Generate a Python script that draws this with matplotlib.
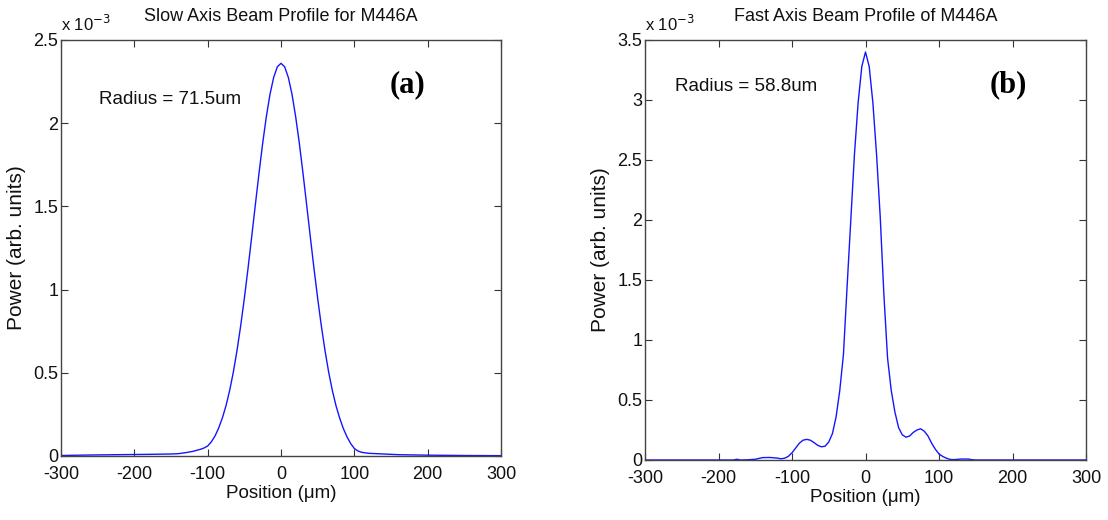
import numpy as np
import matplotlib.pyplot as plt

# slow axis profile (panel a), power in units of 1e-3
slow_x = [-300, -260, -220, -180, -150, -140, -130, -120, -110, -105, -100, -95, -90, -85,
          -80, -75, -70, -65, -60, -55, -50, -45, -40, -35, -30, -25, -20, -15, -10, -5, 0,
          5, 10, 15, 20, 25, 30, 35, 40, 45, 50, 55, 60, 65, 70, 75, 80, 85, 90, 95, 100,
          105, 110, 120, 140, 160, 200, 250, 300]
slow_p = [0.003, 0.006, 0.008, 0.01, 0.012, 0.014, 0.02, 0.028, 0.04, 0.048, 0.06, 0.085, 0.12, 0.168,
          0.228, 0.302, 0.394, 0.504, 0.634, 0.782, 0.947, 1.126, 1.316, 1.509, 1.699, 1.879, 2.039, 2.174, 2.275, 2.339, 2.36,
          2.339, 2.275, 2.174, 2.039, 1.879, 1.699, 1.509, 1.316, 1.126, 0.947, 0.782, 0.634, 0.504, 0.394, 0.302, 0.228, 0.165, 0.115, 0.075, 0.045,
          0.03, 0.022, 0.016, 0.012, 0.008, 0.005, 0.003, 0.002]

# fast axis profile (panel b), power in units of 1e-3
fast_x = [-300, -200, -180, -175, -170, -160, -150, -140, -130, -120, -115, -110, -105, -100, -95, -90,
          -85, -80, -75, -70, -65, -60, -55, -50, -45, -40, -35, -30, -25, -20, -15, -10, -5, 0,
          5, 10, 15, 20, 25, 30, 35, 40, 45, 50, 55, 60, 65, 70, 75, 80, 85, 90, 95, 100,
          105, 110, 115, 120, 130, 140, 145, 150, 200, 300]
fast_p = [0.0, 0.0, 0.0, 0.006, 0.0, 0.002, 0.006, 0.02, 0.021, 0.016, 0.01, 0.015, 0.03, 0.06, 0.10, 0.14,
          0.165, 0.172, 0.165, 0.145, 0.122, 0.11, 0.115, 0.15, 0.22, 0.36, 0.58, 0.88, 1.45, 2.0, 2.55, 2.98, 3.28, 3.40,
          3.28, 2.98, 2.55, 2.03, 1.38, 0.85, 0.58, 0.40, 0.27, 0.21, 0.19, 0.20, 0.23, 0.25, 0.26, 0.24, 0.20, 0.14, 0.09, 0.05,
          0.03, 0.015, 0.005, 0.003, 0.008, 0.008, 0.002, 0.0, 0.0, 0.0]

x_ticks = [-300, -200, -100, 0, 100, 200, 300]
titles = ['Slow Axis Beam Profile for M446A', 'Fast Axis Beam Profile of M446A']
radius_txt = ['Radius = 71.5um', 'Radius = 58.8um']
tags = ['(a)', '(b)']
y_tops = [2.5, 3.5]
radius_pos = [(0.086, 0.856), (0.068, 0.89)]
tag_pos = [(0.748, 0.892), (0.782, 0.893)]

plt.rcParams['font.family'] = ['Liberation Sans', 'DejaVu Sans']
plt.rcParams['axes.unicode_minus'] = False

fig = plt.figure(figsize=(11.08, 5.2), dpi=100)
ax_a = fig.add_axes([61 / 1108, 1 - 456 / 520, 440 / 1108, 416 / 520])
ax_b = fig.add_axes([645 / 1108, 1 - 460 / 520, 441 / 1108, 420 / 520])

data = [(slow_x, slow_p), (fast_x, fast_p)]
for i, ax in enumerate([ax_a, ax_b]):
    xs, ps = data[i]
    ax.plot(xs, ps, color='#1515ff', lw=1.0)
    ax.set_xlim(-300, 300)
    ax.set_ylim(0, y_tops[i])
    ax.set_xticks(x_ticks)
    yt = np.arange(0, y_tops[i] + 0.01, 0.5)
    ax.set_yticks(yt)
    ax.set_yticklabels(['%g' % v for v in yt])
    ax.tick_params(direction='in', length=5, labelsize=13, top=True, right=True,
                   colors='#333333', labelcolor='#111111', pad=2)
    ax.tick_params(axis='x', pad=7)
    for s in ax.spines.values():
        s.set_color('#444444')
        s.set_linewidth(1.0)
    ax.set_title(titles[i], fontsize=13, pad=14, color='#111111')
    ax.set_xlabel('Position (\u03bcm)', fontsize=13.5, labelpad=2, color='#111111')
    ax.set_ylabel('Power (arb. units)', fontsize=15, labelpad=5, color='#111111')
    ax.text(0.0, 1.015, 'x 10$^{-3}$', transform=ax.transAxes, fontsize=12,
            ha='left', va='bottom', color='#111111')
    ax.text(radius_pos[i][0], radius_pos[i][1], radius_txt[i], transform=ax.transAxes,
            fontsize=13.5, ha='left', va='center', color='#111111')
    ax.text(tag_pos[i][0], tag_pos[i][1], tags[i], transform=ax.transAxes, fontsize=22,
            fontweight='bold', family='Liberation Serif', ha='left', va='center')

fig.savefig('out.png', dpi=100)
